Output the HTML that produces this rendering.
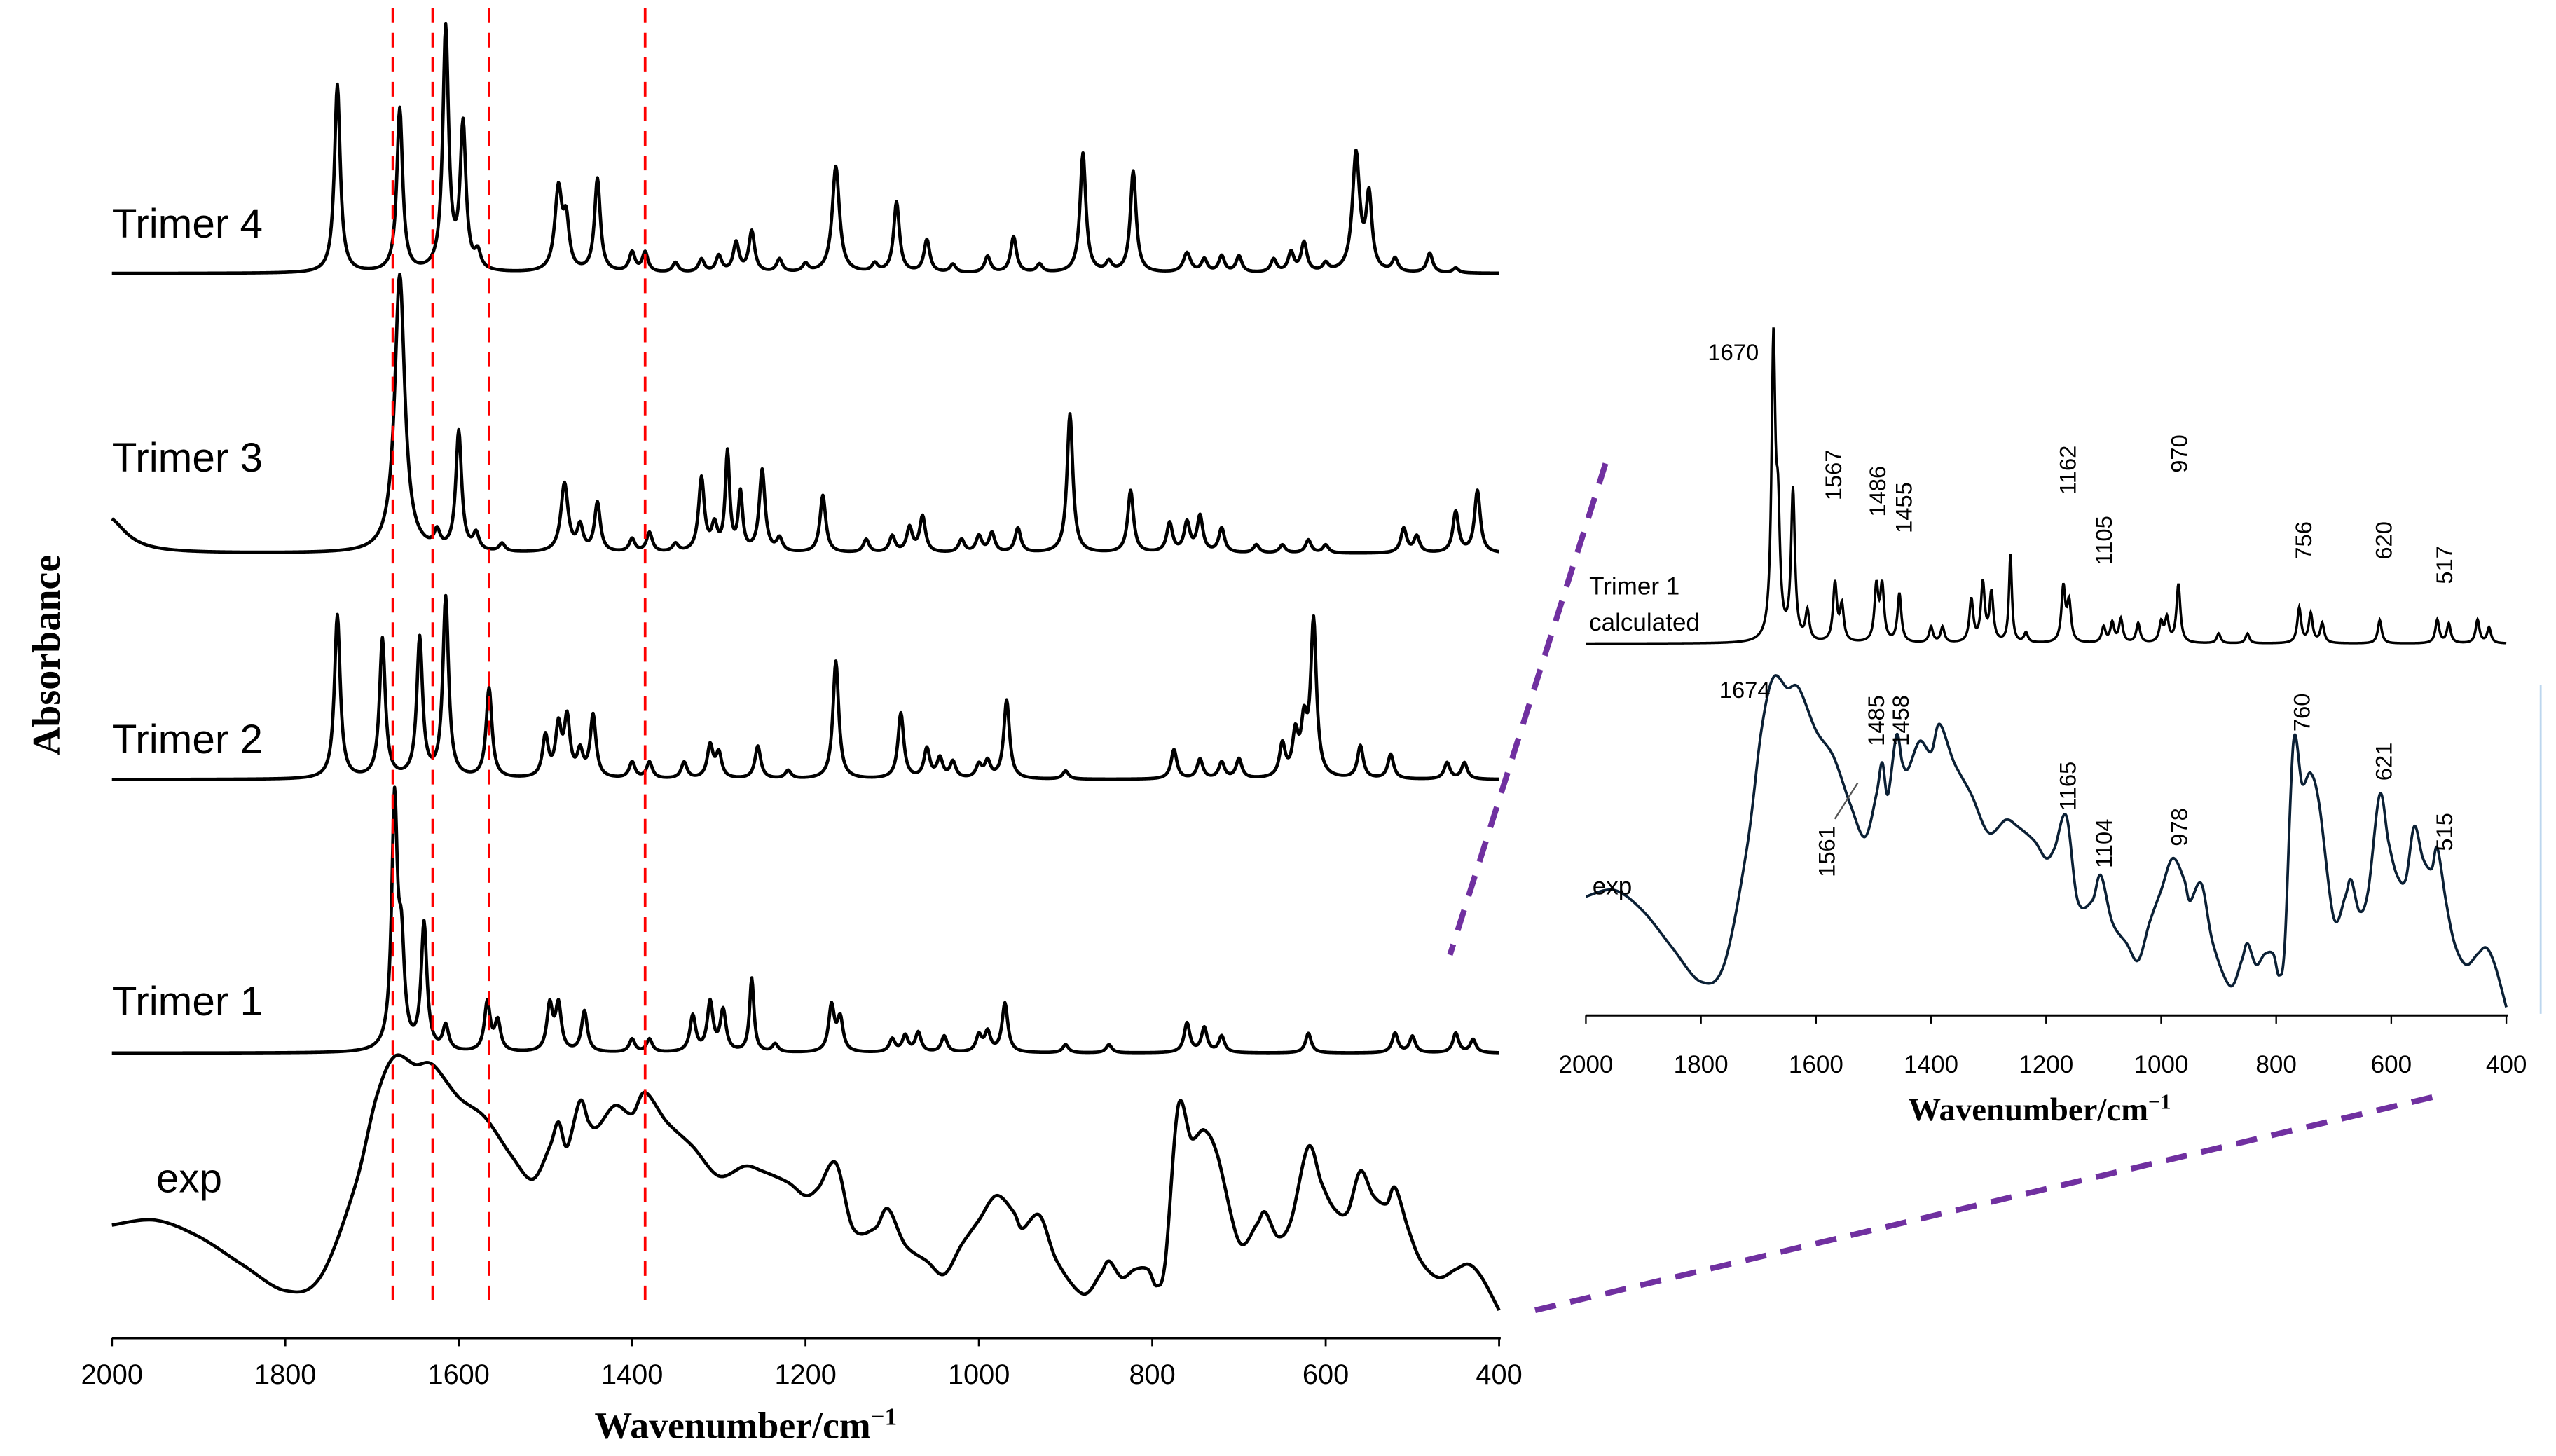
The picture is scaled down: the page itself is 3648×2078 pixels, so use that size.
<!DOCTYPE html>
<html><head><meta charset="utf-8"><style>
html,body{margin:0;padding:0;background:#fff}
svg{display:block}
</style></head><body>
<svg id="fig" width="3648" height="2078" viewBox="0 0 1560 889" xmlns="http://www.w3.org/2000/svg" font-family="Liberation Sans, sans-serif">
<rect x="0" y="0" width="1560" height="889" fill="#fff"/>
<g id="main"></g>
<g id="inset"></g>
</svg>
<script>
// ---- data ----
const tickLabels = [2000,1800,1600,1400,1200,1000,800,600,400];
const markerLines = [1676,1630,1565,1385];
// peaks: [wavenumber, height, hwhm]
const trimer4Peaks = [[1740,115,4],[1668,100,4],[1615,148,4],[1595,88,4],[1578,10,4],[1485,50,5],[1476,28,4],[1440,57,4],[1400,12,4],[1385,12,4],[1350,6,4],[1320,8,4],[1300,10,4],[1280,18,4],[1262,25,4],[1230,8,4],[1200,5,4],[1165,65,5],[1120,5,4],[1095,43,4],[1060,20,4],[1030,5,4],[990,10,4],[960,22,4],[930,5,4],[880,73,4],[850,6,4],[822,62,4],[760,12,5],[740,8,4],[720,10,4],[700,10,4],[660,8,4],[640,12,4],[625,18,4],[600,5,4],[565,72,5],[550,45,4],[520,8,4],[480,12,4],[450,3,4]];
const trimer3Peaks = [[2005,22,25],[1668,170,7],[1625,10,4],[1600,73,4],[1580,10,4],[1550,5,4],[1478,42,5],[1460,15,4],[1440,30,4],[1400,8,4],[1380,12,4],[1350,5,4],[1320,45,4],[1305,15,4],[1290,60,3],[1275,35,3],[1250,50,4],[1230,8,4],[1180,35,4],[1130,8,4],[1100,10,4],[1080,15,4],[1065,22,4],[1020,8,4],[1000,10,4],[985,12,4],[955,15,4],[895,85,4],[825,38,4],[780,18,4],[760,18,4],[745,22,4],[720,15,4],[680,5,4],[650,5,4],[620,8,4],[600,5,4],[510,15,4],[495,10,4],[450,25,4],[425,38,4]];
const trimer2Peaks = [[1740,100,4],[1688,85,4],[1645,85,4],[1615,110,4],[1565,55,4],[1500,25,4],[1485,30,4],[1475,35,4],[1460,15,4],[1445,38,4],[1400,10,4],[1380,10,4],[1340,10,4],[1310,20,4],[1300,15,4],[1255,20,4],[1220,5,4],[1165,72,4],[1090,40,4],[1060,18,4],[1045,12,4],[1030,10,4],[1000,8,4],[990,10,4],[968,48,4],[900,5,4],[775,18,4],[745,12,4],[720,10,4],[700,12,4],[650,20,4],[635,25,4],[625,30,4],[614,95,4],[560,20,4],[525,15,4],[460,10,4],[440,10,4]];
const trimer1Peaks = [[1674,150,4],[1666,55,4],[1640,77,4],[1615,15,4],[1567,30,4],[1555,18,4],[1495,28,4],[1485,28,4],[1455,25,4],[1400,8,4],[1380,8,4],[1330,22,4],[1310,30,4],[1295,25,4],[1262,45,3],[1235,5,4],[1170,28,4],[1160,20,4],[1100,8,4],[1085,10,4],[1070,12,4],[1040,10,4],[1000,10,4],[990,12,4],[970,30,4],[900,5,4],[850,5,4],[760,18,4],[740,15,4],[720,10,4],[620,12,4],[520,12,4],[500,10,4],[450,12,4],[430,8,4]];
const expWn  = [2000,1950,1900,1850,1800,1760,1720,1695,1674,1650,1630,1600,1570,1540,1515,1495,1485,1475,1460,1450,1440,1420,1400,1385,1360,1330,1300,1270,1250,1220,1200,1185,1165,1145,1120,1105,1085,1060,1040,1020,1000,980,960,950,930,910,880,860,850,835,820,805,795,785,770,755,740,725,700,680,670,655,640,620,605,590,575,560,545,530,520,505,490,470,450,435,420,400];
const expAbs = [52,55,45,28,12,20,75,130,155,150,150,130,118,95,80,100,115,100,128,115,112,125,120,133,115,100,82,88,85,78,70,75,90,50,50,62,40,30,22,40,55,70,60,50,58,30,10,22,30,20,25,25,15,30,125,105,110,95,42,52,60,45,55,100,78,62,60,85,70,65,75,50,30,20,25,28,20,0];

// ---- helpers ----
const NS='http://www.w3.org/2000/svg';
function mk(tag,attrs,parent,txt){const e=document.createElementNS(NS,tag);for(const k in attrs)e.setAttribute(k,attrs[k]);if(txt!==undefined)e.textContent=txt;parent.appendChild(e);return e;}
function calcSpectrum(peaks){const pts=[];for(let w=2000;w>=400;w-=1){let s=0;for(const p of peaks){const d=(w-p[0])/p[2];s+=p[1]/(1+d*d);}pts.push([w,s]);}return pts;}
function smoothPath(P){let d='M'+P[0][0].toFixed(2)+','+P[0][1].toFixed(2);for(let i=0;i<P.length-1;i++){const p0=P[Math.max(0,i-1)],p1=P[i],p2=P[i+1],p3=P[Math.min(P.length-1,i+2)];const c1=[p1[0]+(p2[0]-p0[0])/6,p1[1]+(p2[1]-p0[1])/6],c2=[p2[0]-(p3[0]-p1[0])/6,p2[1]-(p3[1]-p1[1])/6];d+=' C'+c1[0].toFixed(2)+','+c1[1].toFixed(2)+' '+c2[0].toFixed(2)+','+c2[1].toFixed(2)+' '+p2[0].toFixed(2)+','+p2[1].toFixed(2);}return d;}

const main=document.getElementById('main');
const inset=document.getElementById('inset');
const xL=w=>68+(2000-w)*(847/1600);
const xI=w=>968+(2000-w)*(562/1600);

// ---- main chart ----
let ax=mk('line',{x1:68,y1:817,x2:916,y2:817,stroke:'#000','stroke-width':1.5},main);

tickLabels.forEach(t=>{
  const tk=mk('line',{x1:xL(t),y1:817,x2:xL(t),y2:822,stroke:'#000','stroke-width':1.2},main);
  
  const tl=mk('text',{x:xL(t),y:845,'font-size':17,'text-anchor':'middle',fill:'#000'},main,String(t));
  
});
let xt=mk('text',{x:455,y:878,'font-size':23,'font-weight':'bold','font-family':'Liberation Serif, serif','text-anchor':'middle'},main);

xt.innerHTML='Wavenumber/cm<tspan dy="-8" font-size="15">−1</tspan>';
let yt=mk('text',{x:0,y:0,'font-size':24,'font-weight':'bold','font-family':'Liberation Serif, serif','text-anchor':'middle',transform:'translate(36,400) rotate(-90)'},main,'Absorbance');


const series=[['trimer-4',trimer4Peaks,167,'Trimer 4',145],['trimer-3',trimer3Peaks,338,'Trimer 3',288],['trimer-2',trimer2Peaks,476,'Trimer 2',460],['trimer-1',trimer1Peaks,643,'Trimer 1',620]];
series.forEach(s=>{
  const pts=calcSpectrum(s[1]).map(p=>[xL(p[0]),s[2]-p[1]]);
  const pl=mk('polyline',{points:pts.map(p=>p[0].toFixed(2)+','+p[1].toFixed(2)).join(' '),fill:'none',stroke:'#000','stroke-width':2,'stroke-linejoin':'round'},main);
  
  const lb=mk('text',{x:68,y:s[4],'font-size':25,fill:'#000'},main,s[3]);
  
});
let expP=mk('path',{d:smoothPath(expWn.map((w,i)=>[xL(w),800-expAbs[i]])),fill:'none',stroke:'#000','stroke-width':2},main);

let expL=mk('text',{x:95,y:728,'font-size':25},main,'exp');

markerLines.forEach(w=>{
  const ml=mk('line',{x1:xL(w),y1:5,x2:xL(w),y2:800,stroke:'#ff0000','stroke-width':1.6,'stroke-dasharray':'9 6'},main);
  
});

// ---- inset ----
let fr=mk('polyline',{points:'1551,418 1551,619',fill:'none',stroke:'#bcd6ee','stroke-width':1.2},inset);

let iax=mk('line',{x1:968,y1:620,x2:1531,y2:620,stroke:'#000','stroke-width':1.3},inset);

tickLabels.forEach(t=>{
  const tk=mk('line',{x1:xI(t),y1:620,x2:xI(t),y2:625,stroke:'#000','stroke-width':1},inset);
  
  const tl=mk('text',{x:xI(t),y:655,'font-size':15,'text-anchor':'middle'},inset,String(t));
  
});
let ixt=mk('text',{x:1245,y:684,'font-size':20,'font-weight':'bold','font-family':'Liberation Serif, serif','text-anchor':'middle'},inset);

ixt.innerHTML='Wavenumber/cm<tspan dy="-7" font-size="13">−1</tspan>';
const ipts=calcSpectrum(trimer1Peaks).map(p=>[xI(p[0]),393-p[1]*1.19]);
let ipl=mk('polyline',{points:ipts.map(p=>p[0].toFixed(2)+','+p[1].toFixed(2)).join(' '),fill:'none',stroke:'#000','stroke-width':1.5},inset);

let iexp=mk('path',{d:smoothPath(expWn.map((w,i)=>[xI(w),615-expAbs[i]*1.3])),fill:'none',stroke:'#0b2035','stroke-width':1.6},inset);

[['Trimer 1',970,363],['calculated',970,385],['exp',972,546]].forEach(a=>{
  const t=mk('text',{x:a[1],y:a[2],'font-size':15},inset,a[0]);
  
});
[['1670',1058,220],['1674',1065,426]].forEach(a=>{
  const t=mk('text',{x:a[1],y:a[2],'font-size':14,'text-anchor':'middle'},inset,a[0]);
  
});
[['1567',1124,290],['1486',1151,300],['1455',1167,310],['1162',1267,287],['1105',1289,330],['970',1335,277],['756',1411,330],['620',1460,330],['517',1497,345],
 ['1485',1150,440],['1458',1165,440],['1165',1267,480],['1104',1289,515],['978',1335,505],['760',1410,435],['621',1460,465],['515',1497,508],['1561',1120,520]].forEach(a=>{
  const t=mk('text',{x:0,y:0,'font-size':14,'text-anchor':'middle',transform:'translate('+a[1]+','+a[2]+') rotate(-90)'},inset,a[0]);
  
});
let arr=mk('line',{x1:1120,y1:500,x2:1134,y2:478,stroke:'#555','stroke-width':1},inset);


// ---- zoom connector lines ----
[[980,283,885,583],[937,800,1493,668]].forEach(c=>{
  const l=mk('line',{x1:c[0],y1:c[1],x2:c[2],y2:c[3],stroke:'#7030a0','stroke-width':3.5,'stroke-dasharray':'13 9'},document.getElementById('fig'));
  
});
</script>
</body></html>
